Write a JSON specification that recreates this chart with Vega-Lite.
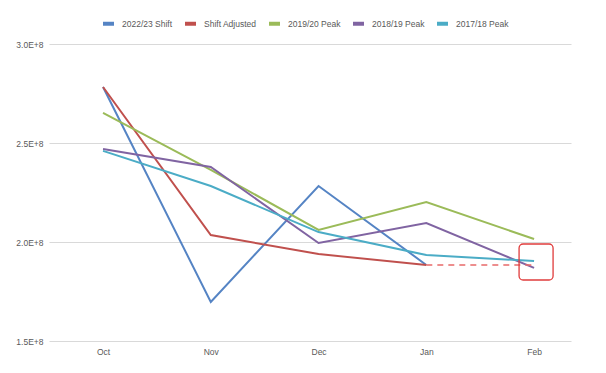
{
  "$schema": "https://vega.github.io/schema/vega-lite/v6.json",
  "autosize": "none",
  "width": 522,
  "height": 297,
  "padding": {"left": 49, "top": 44, "right": 35, "bottom": 32},
  "background": "white",
  "config": {
    "font": "Liberation Sans",
    "view": {"stroke": null},
    "axis": {"labelFont": "Liberation Sans", "labelFontSize": 8.5, "labelColor": "#595959"}
  },
  "datasets": {
    "main": [
      {"month": "Oct", "series": "2022/23 Shift", "value": 278300000},
      {"month": "Nov", "series": "2022/23 Shift", "value": 169700000},
      {"month": "Dec", "series": "2022/23 Shift", "value": 228300000},
      {"month": "Jan", "series": "2022/23 Shift", "value": 188400000},
      {"month": "Oct", "series": "Shift Adjusted", "value": 278300000},
      {"month": "Nov", "series": "Shift Adjusted", "value": 203500000},
      {"month": "Dec", "series": "Shift Adjusted", "value": 193900000},
      {"month": "Jan", "series": "Shift Adjusted", "value": 188400000},
      {"month": "Oct", "series": "2019/20 Peak", "value": 265200000},
      {"month": "Nov", "series": "2019/20 Peak", "value": 236400000},
      {"month": "Dec", "series": "2019/20 Peak", "value": 206100000},
      {"month": "Jan", "series": "2019/20 Peak", "value": 220200000},
      {"month": "Feb", "series": "2019/20 Peak", "value": 201500000},
      {"month": "Oct", "series": "2018/19 Peak", "value": 247000000},
      {"month": "Nov", "series": "2018/19 Peak", "value": 237900000},
      {"month": "Dec", "series": "2018/19 Peak", "value": 199500000},
      {"month": "Jan", "series": "2018/19 Peak", "value": 209600000},
      {"month": "Feb", "series": "2018/19 Peak", "value": 186900000},
      {"month": "Oct", "series": "2017/18 Peak", "value": 246000000},
      {"month": "Nov", "series": "2017/18 Peak", "value": 228300000},
      {"month": "Dec", "series": "2017/18 Peak", "value": 205000000},
      {"month": "Jan", "series": "2017/18 Peak", "value": 193400000},
      {"month": "Feb", "series": "2017/18 Peak", "value": 190400000}
    ],
    "dash": [
      {"month": "Jan", "value": 188400000},
      {"month": "Feb", "value": 188400000}
    ],
    "box": [
      {"month": "Feb", "top": 199000000, "bottom": 180800000}
    ]
  },
  "layer": [
    {
      "data": {"name": "main"},
      "mark": {"type": "line", "strokeWidth": 2},
      "encoding": {
        "x": {
          "field": "month", "type": "ordinal",
          "sort": ["Oct", "Nov", "Dec", "Jan", "Feb"],
          "scale": {"type": "point", "domain": ["Oct", "Nov", "Dec", "Jan", "Feb"], "padding": 0.422, "align": 0.594},
          "axis": {"title": null, "domain": false, "ticks": false, "labelPadding": 6, "labelAngle": 0}
        },
        "y": {
          "field": "value", "type": "quantitative",
          "scale": {"domain": [150000000, 300000000], "nice": false, "zero": false},
          "axis": {
            "title": null, "domain": false, "ticks": false,
            "values": [150000000, 200000000, 250000000, 300000000],
            "labelExpr": "replace(format(datum.value, '.1e'), 'e', 'E')",
            "gridColor": "#D9D9D9", "gridWidth": 1, "labelPadding": 6
          }
        },
        "color": {
          "field": "series", "type": "nominal",
          "scale": {
            "domain": ["2022/23 Shift", "Shift Adjusted", "2019/20 Peak", "2018/19 Peak", "2017/18 Peak"],
            "range": ["#5584C4", "#C0504D", "#9BBB59", "#8064A2", "#4BACC6"]
          },
          "legend": {
            "title": null, "orient": "none", "direction": "horizontal", "columns": 5,
            "legendX": 52, "legendY": -28, "padding": 0,
            "symbolType": "stroke", "symbolSize": 121, "symbolStrokeWidth": 4,
            "labelFont": "Liberation Sans", "labelFontSize": 8.5, "labelColor": "#595959",
            "labelOffset": 6, "columnPadding": 4
          }
        }
      }
    },
    {
      "data": {"name": "dash"},
      "mark": {"type": "line", "color": "#E86A6A", "strokeWidth": 1.5, "strokeDash": [6, 5]},
      "encoding": {
        "x": {"field": "month", "type": "ordinal"},
        "y": {"field": "value", "type": "quantitative"}
      }
    },
    {
      "data": {"name": "box"},
      "mark": {"type": "rect", "width": 34, "fill": null, "fillOpacity": 0, "stroke": "#E03C3C", "strokeWidth": 1.3, "cornerRadius": 4, "xOffset": 2},
      "encoding": {
        "x": {"field": "month", "type": "ordinal"},
        "y": {"field": "top", "type": "quantitative"},
        "y2": {"field": "bottom"}
      }
    }
  ]
}
